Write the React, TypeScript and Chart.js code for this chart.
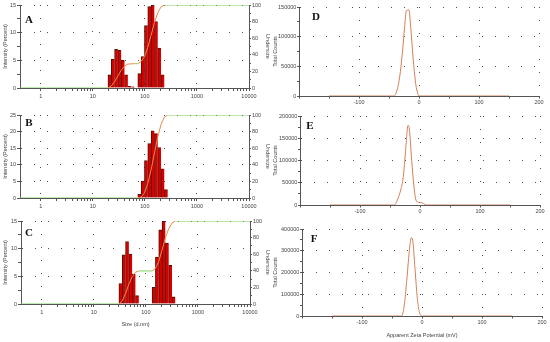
import React, { useEffect, useRef } from "react";
import { Chart, registerables } from "chart.js";

Chart.register(...registerables);

// ---------- Size distribution (Intensity, d.nm) ----------
const sizeTickLabels = [1, 10, 100, 1000, 10000];

const sizesA = [21.04, 24.36, 28.21, 32.67, 37.84, 43.82, 50.75, 58.77, 68.06, 78.82, 91.28, 105.7, 122.4, 141.8, 164.2, 190.1, 220.2];
const intensityA = [2.4, 5.2, 7.0, 6.8, 5.0, 2.4, 0.3, 0.2, 0, 2.6, 5.7, 11.3, 14.7, 15.0, 12.0, 7.2, 2.4];
const underSizesA = [0.4, 19.5, 22.6, 26.2, 30.4, 35.2, 40.7, 47.2, 54.6, 63.2, 73.2, 84.8, 98.2, 113.7, 131.7, 152.6, 176.7, 204.6, 237, 10000];
const undersizeA = [0, 0, 2.4, 7.6, 14.6, 21.4, 26.4, 28.8, 29.1, 29.3, 29.3, 31.9, 37.6, 48.9, 63.6, 78.6, 90.6, 97.8, 100, 100];

const sizesB = [78.82, 91.28, 105.7, 122.4, 141.8, 164.2, 190.1, 220.2, 255.0];
const intensityB = [1.1, 5.1, 11.3, 16.4, 20.2, 19.4, 15.2, 8.8, 2.5];
const underSizesB = [0.4, 73.2, 84.8, 98.2, 113.7, 131.7, 152.6, 176.7, 204.6, 237, 274.6, 10000];
const undersizeB = [0, 0, 1.1, 6.2, 17.5, 33.9, 54.1, 73.5, 88.7, 97.5, 100, 100];

const sizesC = [32.67, 37.84, 43.82, 50.75, 58.77, 68.06, 78.82, 91.28, 105.7, 122.4, 141.8, 164.2, 190.1, 220.2, 255.0, 295.3, 342.0];
const intensityC = [3.7, 8.9, 11.3, 9.0, 5.4, 1.5, 0, 0, 0, 0, 3.0, 8.5, 13.4, 15.0, 11.0, 7.0, 1.3];
const underSizesC = [0.4, 30.4, 35.2, 40.7, 47.2, 54.6, 63.2, 73.2, 131.7, 152.6, 176.7, 204.6, 237, 274.6, 318, 368, 10000];
const undersizeC = [0, 0, 3.7, 12.6, 23.9, 32.9, 38.3, 39.8, 39.8, 42.8, 51.3, 64.7, 79.7, 90.7, 97.7, 100, 100];

// ---------- Zeta potential distributions ----------
const zetaTickLabels = [-100, 0, 100, 200];

const zetaD = [-150, -41.7, -36.7, -32.2, -27.8, -23.9, -21.1, -16.7, -13.9, -10, -5.5, -1.7, 0, 150];
const countsD = [0, 0, 9600, 32000, 72000, 117000, 144000, 145000, 117000, 66000, 21000, 2800, 0, 0];

const zetaE = [-150, -42.8, -37.8, -32.2, -27.8, -23.9, -20, -17.8, -13.9, -10, -6.7, -2.8, 2.8, 8.3, 10, 150];
const countsE = [0, 0, 11000, 33600, 63400, 123000, 179000, 171600, 100700, 41000, 11000, 6000, 5000, 1500, 0, 0];

const zetaF = [-150, -34, -29.5, -25.6, -21.2, -17.8, -15.6, -11.7, -7.8, -4.5, 0, 150];
const countsF = [0, 0, 50600, 158000, 296000, 360000, 349500, 219000, 81000, 20000, 0, 0];

// ---------- styling ----------
const FONT = { family: "'Liberation Sans', Arial, sans-serif", size: 5.5 };
const TEXT = "#444";
const AXIS = "#555";
const DOT = "#4a4a4a";
const DASH = [1, 12];
const SIZE_MIN = 0.4;
const SIZE_MAX = 10000;

type Box = { left: number; top: number; width: number; height: number; al: number; ar: number; at: number; ab: number };

const boxA: Box = { left: 0, top: 0, width: 275, height: 110, al: 20, ar: 249, at: 5, ab: 88 };
const boxB: Box = { left: 0, top: 110, width: 275, height: 110, al: 20, ar: 249, at: 115, ab: 198 };
const boxC: Box = { left: 0, top: 214, width: 275, height: 116, al: 21, ar: 250, at: 221, ab: 304 };
const boxD: Box = { left: 270, top: 0, width: 280, height: 110, al: 299, ar: 539, at: 7, ab: 96 };
const boxE: Box = { left: 270, top: 110, width: 280, height: 110, al: 300, ar: 540, at: 116, ab: 205 };
const boxF: Box = { left: 270, top: 214, width: 280, height: 128, al: 302, ar: 542, at: 229, ab: 316 };

function stepTicks(max: number, step: number) {
  const out: { value: number }[] = [];
  for (let i = 0; i * step <= max + 1e-9; i++) out.push({ value: i * step });
  return out;
}

function logTicks() {
  const out: { value: number }[] = [];
  for (let d = 0; d < sizeTickLabels.length - 1; d++) {
    for (let k = 1; k <= 9; k++) out.push({ value: sizeTickLabels[d] * k });
  }
  out.push({ value: sizeTickLabels[sizeTickLabels.length - 1] });
  return out;
}

const isPow10 = (v: number) => {
  const l = Math.log10(v);
  return Math.abs(l - Math.round(l)) < 1e-9;
};
const isMult = (v: number, s: number) => Math.abs(v / s - Math.round(v / s)) < 1e-9;

function SizePanel(props: {
  box: Box; sizes: number[]; values: number[]; underSizes: number[]; under: number[];
  yMax: number; yStep: number; yLabelStep: number; xTitle?: string;
}) {
  const ref = useRef<HTMLCanvasElement>(null);
  const { box } = props;
  useEffect(() => {
    const leftW = box.al - box.left;
    const rightW = box.left + box.width - box.ar;
    const padTop = box.at - box.top;
    const xH = box.top + box.height - box.ab;
    // one size class wide, in pixels of the log axis
    const binPx = ((box.ar - box.al) * Math.log10(props.sizes[1] / props.sizes[0])) / Math.log10(SIZE_MAX / SIZE_MIN);
    const green = "#7fd35a";
    const chart = new Chart(ref.current as HTMLCanvasElement, {
      type: "bar",
      data: {
        datasets: [
          {
            type: "line",
            data: props.under.map((v, i) => ({ x: props.underSizes[i], y: v })),
            xAxisID: "x",
            yAxisID: "y2",
            borderColor: green,
            borderWidth: 1,
            pointRadius: 0,
            tension: 0,
            order: 0,
            segment: {
              borderColor: (c: any) => (c.p1.parsed.y > c.p0.parsed.y + 0.01 ? "#ee8a48" : green),
            },
          } as any,
          {
            type: "bar",
            data: props.values.map((v, i) => ({ x: props.sizes[i], y: v })),
            xAxisID: "x",
            yAxisID: "y",
            backgroundColor: "#d60000",
            borderColor: "#4e1205",
            borderWidth: { left: 1, top: 1, right: 0, bottom: 0 },
            borderSkipped: false,
            barThickness: binPx,
            order: 1,
          } as any,
        ],
      },
      options: {
        animation: false,
        responsive: false,
        maintainAspectRatio: false,
        devicePixelRatio: 1,
        events: [],
        layout: { padding: { top: padTop, left: 0, right: 0, bottom: 0 } },
        plugins: { legend: { display: false }, tooltip: { enabled: false } },
        scales: {
          x: {
            type: "logarithmic",
            position: "bottom",
            min: SIZE_MIN,
            max: SIZE_MAX,
            offset: false,
            afterBuildTicks: (s: any) => { s.ticks = logTicks(); },
            afterFit: (s: any) => { s.height = xH; },
            ticks: {
              autoSkip: false, maxRotation: 0, minRotation: 0, font: FONT, color: TEXT, padding: 2,
              callback: (v: any) => (sizeTickLabels.includes(Number(v)) ? String(v) : ""),
            },
            grid: {
              offset: false,
              color: (c: any) => (c.tick && isPow10(c.tick.value) && c.tick.value < SIZE_MAX ? DOT : "rgba(0,0,0,0)"),
              tickColor: AXIS,
              tickBorderDash: [],
              tickLength: 3,
              lineWidth: 1,
            },
            border: { display: true, color: AXIS, width: 1, dash: DASH },
            title: props.xTitle
              ? { display: true, text: props.xTitle, font: FONT, color: TEXT, padding: { top: 0, bottom: 2.7 } }
              : { display: false },
          } as any,
          y: {
            type: "linear",
            position: "left",
            min: 0,
            max: props.yMax,
            afterBuildTicks: (s: any) => { s.ticks = stepTicks(props.yMax, props.yStep); },
            afterFit: (s: any) => { s.width = leftW; },
            ticks: {
              autoSkip: false, font: FONT, color: TEXT, padding: 1,
              callback: (v: any) => (isMult(Number(v), props.yLabelStep) ? String(v) : ""),
            },
            grid: {
              color: (c: any) => (c.tick && c.tick.value > 0 && isMult(c.tick.value, props.yLabelStep) ? DOT : "rgba(0,0,0,0)"),
              tickColor: AXIS,
              tickBorderDash: [],
              tickLength: 3,
            },
            border: { display: true, color: AXIS, width: 1, dash: DASH },
            title: { display: true, text: "Intensity (Percent)", font: FONT, color: TEXT, padding: { top: 1.7, bottom: 0 } },
          } as any,
          y2: {
            type: "linear",
            position: "right",
            min: 0,
            max: 100,
            afterBuildTicks: (s: any) => { s.ticks = stepTicks(100, 10); },
            afterFit: (s: any) => { s.width = rightW; },
            ticks: {
              autoSkip: false, font: FONT, color: TEXT, padding: 1,
              callback: (v: any) => (isMult(Number(v), 20) ? String(v) : ""),
            },
            grid: { drawOnChartArea: false, tickColor: AXIS, tickLength: 2 },
            border: { display: true, color: AXIS, width: 1 },
            title: { display: true, text: "Undersize", font: FONT, color: TEXT, padding: { top: 3.7, bottom: 0 } },
          } as any,
        },
      },
    } as any);
    return () => chart.destroy();
  }, []);
  return (
    <canvas
      ref={ref}
      width={box.width}
      height={box.height}
      style={{ position: "absolute", left: box.left, top: box.top, width: box.width, height: box.height, display: "block" }}
    />
  );
}

function ZetaPanel(props: {
  box: Box; mv: number[]; counts: number[]; yMax: number; yStep: number; yLabelStep: number; xTitle?: string;
}) {
  const ref = useRef<HTMLCanvasElement>(null);
  const { box } = props;
  useEffect(() => {
    const leftW = box.al - box.left;
    const padRight = box.left + box.width - box.ar;
    const padTop = box.at - box.top;
    const xH = box.top + box.height - box.ab;
    const chart = new Chart(ref.current as HTMLCanvasElement, {
      type: "line",
      data: {
        datasets: [
          {
            data: props.mv.map((v, i) => ({ x: v, y: props.counts[i] })),
            borderColor: "#d2805a",
            borderWidth: 1,
            pointRadius: 0,
            cubicInterpolationMode: "monotone",
          } as any,
        ],
      },
      options: {
        animation: false,
        responsive: false,
        maintainAspectRatio: false,
        devicePixelRatio: 1,
        events: [],
        layout: { padding: { top: padTop, left: 0, right: padRight, bottom: 0 } },
        plugins: { legend: { display: false }, tooltip: { enabled: false } },
        scales: {
          x: {
            type: "linear",
            position: "bottom",
            min: -200,
            max: 200,
            afterBuildTicks: (s: any) => {
              const t: { value: number }[] = [];
              for (let v = -200; v <= 200; v += 50) t.push({ value: v });
              s.ticks = t;
            },
            afterFit: (s: any) => { s.height = xH; },
            ticks: {
              autoSkip: false, maxRotation: 0, minRotation: 0, font: FONT, color: TEXT, padding: 1,
              callback: (v: any) => (zetaTickLabels.includes(Number(v)) ? String(v) : ""),
            },
            grid: {
              color: (c: any) => (c.tick && c.tick.value > -200 && isMult(c.tick.value, 100) ? DOT : "rgba(0,0,0,0)"),
              tickColor: AXIS,
              tickBorderDash: [],
              tickLength: 2.5,
            },
            border: { display: true, color: AXIS, width: 1, dash: DASH },
            title: props.xTitle
              ? { display: true, text: props.xTitle, font: FONT, color: TEXT, padding: { top: 0, bottom: 3.7 } }
              : { display: false },
          } as any,
          y: {
            type: "linear",
            position: "left",
            min: 0,
            max: props.yMax,
            afterBuildTicks: (s: any) => { s.ticks = stepTicks(props.yMax, props.yStep); },
            afterFit: (s: any) => { s.width = leftW; },
            ticks: {
              autoSkip: false, font: FONT, color: TEXT, padding: 0.6,
              callback: (v: any) => (isMult(Number(v), props.yLabelStep) ? String(v) : ""),
            },
            grid: {
              color: (c: any) => (c.tick && c.tick.value > 0 && isMult(c.tick.value, props.yLabelStep) ? DOT : "rgba(0,0,0,0)"),
              tickColor: AXIS,
              tickBorderDash: [],
              tickLength: 2,
            },
            border: { display: true, color: AXIS, width: 1, dash: DASH },
            title: { display: true, text: "Total Counts", font: FONT, color: TEXT, padding: { top: 1.7, bottom: 0 } },
          } as any,
        },
      },
    } as any);
    return () => chart.destroy();
  }, []);
  return (
    <canvas
      ref={ref}
      width={box.width}
      height={box.height}
      style={{ position: "absolute", left: box.left, top: box.top, width: box.width, height: box.height, display: "block" }}
    />
  );
}

const panelLetters = [
  { t: "A", x: 29, y: 19 },
  { t: "B", x: 29, y: 122 },
  { t: "C", x: 29, y: 232 },
  { t: "D", x: 316, y: 16 },
  { t: "E", x: 310, y: 125 },
  { t: "F", x: 314, y: 238 },
];

export default function App() {
  return (
    <div style={{ position: "absolute", left: 0, top: 0, width: 550, height: 342, background: "#fff", overflow: "hidden" }}>
      <SizePanel box={boxA} sizes={sizesA} values={intensityA} underSizes={underSizesA} under={undersizeA} yMax={15} yStep={2.5} yLabelStep={5} />
      <SizePanel box={boxB} sizes={sizesB} values={intensityB} underSizes={underSizesB} under={undersizeB} yMax={25} yStep={5} yLabelStep={5} />
      <SizePanel box={boxC} sizes={sizesC} values={intensityC} underSizes={underSizesC} under={undersizeC} yMax={15} yStep={2.5} yLabelStep={5} xTitle="Size (d.nm)" />
      <ZetaPanel box={boxD} mv={zetaD} counts={countsD} yMax={150000} yStep={25000} yLabelStep={50000} />
      <ZetaPanel box={boxE} mv={zetaE} counts={countsE} yMax={200000} yStep={25000} yLabelStep={50000} />
      <ZetaPanel box={boxF} mv={zetaF} counts={countsF} yMax={400000} yStep={50000} yLabelStep={100000} xTitle="Apparent Zeta Potential (mV)" />
      {panelLetters.map((p) => (
        <div
          key={p.t}
          style={{
            position: "absolute", left: p.x, top: p.y, transform: "translate(-50%, -50%)",
            font: "bold 11px 'Liberation Serif', 'Times New Roman', serif", color: "#111", lineHeight: "11px",
          }}
        >
          {p.t}
        </div>
      ))}
    </div>
  );
}
